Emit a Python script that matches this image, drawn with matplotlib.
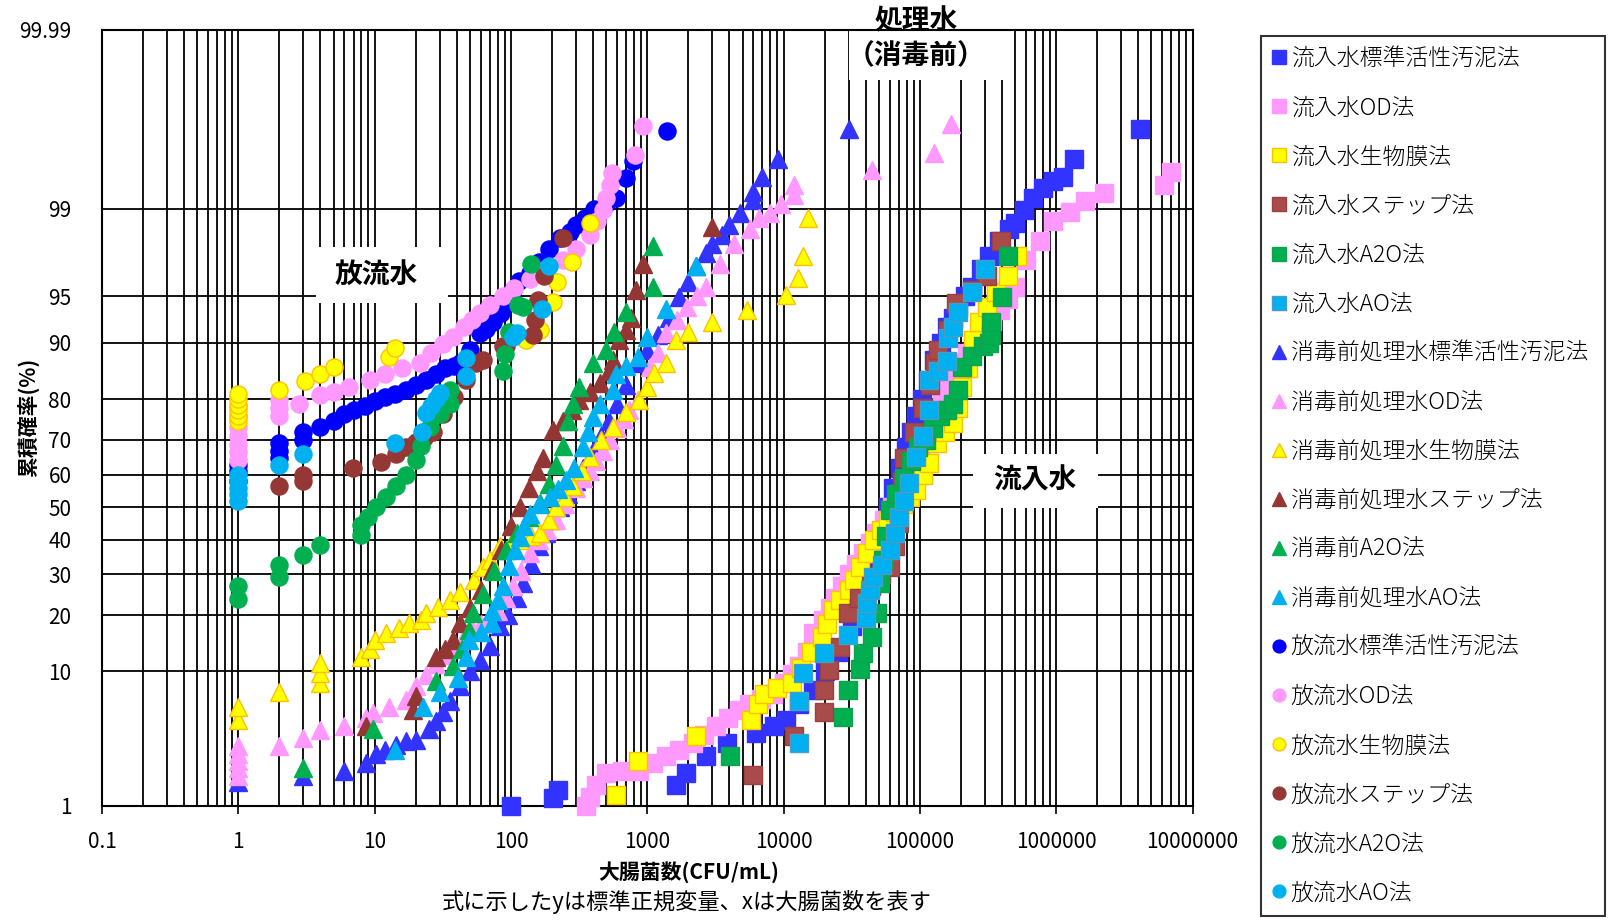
import numpy as np
import matplotlib
matplotlib.use("Agg")
import matplotlib.pyplot as plt
from matplotlib.ticker import FixedLocator, FixedFormatter, LogLocator, NullFormatter
from matplotlib.patches import Rectangle
from statistics import NormalDist

plt.rcParams['font.family'] = ['Noto Sans CJK JP', 'DejaVu Sans']

# ---------------- data (x: CFU/mL, p: cumulative probability %) ----------------
x_ticks = [0.1, 1, 10, 100, 1000, 10000, 100000, 1000000, 10000000]
x_tick_labels = ['0.1', '1', '10', '100', '1000', '10000', '100000', '1000000', '10000000']
y_ticks = [1, 10, 20, 30, 40, 50, 60, 70, 80, 90, 95, 99, 99.99]
y_tick_labels = ['1', '10', '20', '30', '40', '50', '60', '70', '80', '90', '95', '99', '99.99']

# Influent (squares)
inf_std_x = [100, 203, 220, 1630, 1940, 2690, 3820, 6280, 8500, 10500, 13000, 16500, 20000, 25000, 32000,
             37000, 42000, 47000, 52000, 58000, 64000, 71000, 79000, 86000, 93000, 103000, 115000, 128000,
             142000, 157000, 175000, 190000, 215000, 240000, 280000, 320000, 380000, 450000, 500000, 580000,
             675000, 800000, 950000, 1130000, 1340000, 4100000]
inf_std_p = [1.0, 1.16, 1.37, 1.5, 1.9, 2.6, 3.3, 3.9, 4.4, 4.85, 6.2, 7.7, 10, 13, 17.6,
             22, 27, 33, 40, 50, 56, 62, 68, 72, 76, 80, 84, 87.5,
             90, 92, 93, 94.1, 95, 95.7, 96.8, 97.5, 98.1, 98.5, 98.65, 98.97,
             99.2, 99.35, 99.45, 99.5, 99.67, 99.84]

inf_od_x = [357, 378, 420, 500, 650, 876, 1100, 1370, 1700, 2150, 2600, 3200, 3900, 4750, 5600, 6800, 8300,
            10000, 11500, 13000, 14800, 16500, 19500, 22000, 24000, 27000, 30000, 34000, 38000, 43000, 48000,
            55000, 62000, 70000, 80000, 90000, 102000, 115000, 130000, 145000, 160000, 175000, 195000, 220000,
            260000, 300000, 340000, 385000, 440000, 500000, 600000, 760000, 950000, 1270000, 1630000, 2250000,
            6200000, 7000000]
inf_od_p = [0.98, 1.2, 1.5, 1.9, 2.0, 2.0, 2.3, 2.6, 2.9, 3.3, 3.8, 4.4, 5.0, 5.7, 6.2, 6.7, 7.3,
            8.5, 9.6, 10.7, 13, 16.3, 19, 21.5, 24, 27, 30, 33, 36, 39, 42,
            46, 50, 54, 58, 62, 66, 70, 75, 80, 83, 85, 87, 88.5,
            90, 91.5, 92.7, 93.8, 94.8, 95.7, 97.3, 98.1, 98.7, 98.93, 99.14, 99.28,
            99.4, 99.55]

inf_bio_x = [590, 850, 2280, 5800, 6500, 7200, 9000, 11600, 13500, 16000, 19300, 21000, 23000, 26000, 30000,
             33000, 36500, 41000, 46000, 52000, 58000, 66000, 75000, 84000, 93000, 105000, 117000, 133000,
             152000, 175000, 190000, 205000, 225000, 245000, 270000, 310000, 360000, 440000, 520000]
inf_bio_p = [1.24, 2.4, 3.7, 4.85, 6.2, 7.3, 7.9, 8.5, 10.5, 13, 15.6, 18, 21.1, 23.5, 25.9,
             28.5, 32, 36, 40, 43, 46, 48.5, 51, 53, 55.3, 60, 63.4, 69,
             72, 74.3, 78, 82.6, 86, 90.4, 92.5, 94.1, 95.3, 96.4, 97.5]

inf_step_x = [6000, 11900, 19800, 19800, 21700, 26000, 29800, 36000, 44000, 52000, 60000, 66000, 70000,
              72000, 74000, 76000, 90000, 105000, 118000, 130000, 135000, 160000, 183000, 240000, 310000, 395000]
inf_step_p = [1.84, 3.7, 5.5, 7.7, 10.2, 13.8, 20.4, 24, 27, 30, 32, 38, 45,
              52, 58, 65, 72, 78, 83, 87, 89, 91.6, 94.4, 95.5, 96.4, 98.1]

inf_a2o_x = [4060, 27400, 29800, 36400, 38400, 44500, 48300, 51000, 54000, 56000, 60000, 67000, 76000,
             86000, 97000, 110000, 125000, 140000, 158000, 175000, 190000, 205000, 240000, 290000, 320000,
             330000, 335000, 400000, 440000]
inf_a2o_p = [2.6, 5.1, 7.7, 10.4, 12.7, 15.6, 20.4, 27.6, 34, 41, 49, 54, 59,
             64, 68, 70, 73, 76, 77.5, 79, 82, 86.3, 88, 89.5, 90,
             91, 92.6, 94.9, 97.5]

inf_ao_x = [13000, 13000, 13900, 19800, 29800, 40000, 41000, 43000, 45000, 53000, 60000, 66000, 70000,
            76000, 83000, 93500, 105000, 117000, 117000, 135000, 157000, 160000, 175000, 190000, 240000, 300000]
inf_ao_p = [3.3, 6.5, 9.8, 12.7, 15.9, 19.3, 22.7, 26, 29.4, 32.6, 37, 42, 47,
            52, 57.4, 65.2, 71, 77.5, 83.9, 85.5, 87.2, 90.6, 92, 93.6, 95.3, 96.8]

# Treated water before disinfection (triangles)
pre_std_x = [1, 3, 6, 8.7, 10.3, 12, 14.4, 17, 20.2, 25, 28.3, 32, 36, 42, 50, 59, 70, 83, 95, 110, 122,
             140, 160, 180, 200, 230, 260, 300, 340, 400, 460, 520, 600, 700, 850, 1000, 1200, 1450, 1720,
             2000, 2270, 2690, 3000, 3520, 4000, 4800, 5970, 6000, 6900, 9100, 30400]
pre_std_p = [1.6, 1.8, 2.0, 2.3, 2.7, 2.9, 3.2, 3.4, 3.5, 4.2, 4.8, 5.5, 6.5, 8.1, 10, 11.7, 14, 17.6, 20, 24, 27.6,
             33, 38, 42, 46, 50, 54, 58, 62, 67, 71, 75, 79, 83, 87, 89, 91, 93, 94.9,
             96, 97, 97.6, 98, 98.3, 98.6, 98.9, 99.17, 99.3, 99.5, 99.67, 99.84]

pre_od_x = [1, 1, 1, 1, 1, 2, 3, 4, 6, 8.6, 9.7, 12.8, 17, 20.2, 24, 28, 33, 38, 45, 52, 60, 70, 80, 92, 103,
            118, 137, 160, 185, 214, 250, 300, 340, 378, 420, 470, 530, 600, 670, 740, 850, 1040, 1200, 1380,
            1650, 1950, 2300, 2690, 3400, 4300, 5680, 6600, 7900, 9500, 11900, 11900, 44600, 127000, 170000]
pre_od_p = [1.8, 2.1, 2.4, 2.7, 3.1, 3.1, 3.6, 4.1, 4.4, 5.0, 5.4, 6.0, 6.6, 8.1, 9.5, 11, 12.5, 14, 15.5, 17,
            18, 19, 21, 24, 26.8, 31, 35.9, 40, 43, 46, 51, 56, 59, 61, 64, 67, 70, 73, 75.5, 77.5, 79.8,
            86.3, 88.5, 91.2, 92.8, 94.1, 95, 95.7, 97.1, 98, 98.5, 98.8, 98.9, 99.1, 99.25, 99.4, 99.57,
            99.71, 99.86]

pre_bio_x = [1, 1, 2, 4, 4, 4, 8, 9.2, 10, 12.2, 15.2, 18, 22, 24, 29, 35.5, 42, 54, 62, 70, 83, 100, 116,
             140, 163, 190, 215, 250, 284, 330, 378, 460, 560, 700, 875, 1000, 1130, 1380, 1630, 1980, 3000,
             5400, 10400, 12700, 13900, 15000]
pre_bio_p = [4.85, 6.0, 7.5, 8.5, 9.8, 11.2, 12.2, 13.5, 15, 16.3, 17.2, 18.3, 19, 20.4, 21.9, 23.4, 25.5,
             28.5, 32, 34, 38, 39, 40, 41, 42, 46, 50, 53, 56.4, 61, 65.2, 70, 73.5, 77, 79.8, 82.5,
             85.2, 86.9, 90.4, 91.4, 92.6, 93.8, 95.1, 96.3, 97.5, 98.8]

pre_step_x = [8.7, 19.1, 20.2, 28.3, 33, 37.6, 42, 50, 60, 73, 85, 100, 116, 135, 155, 171, 203, 240, 280,
              317, 380, 447, 520, 560, 625, 700, 760, 830, 935, 3000]
pre_step_p = [4.4, 5.7, 7.0, 12.2, 13.5, 15, 18.3, 21.5, 26, 31.2, 37, 44, 50, 56, 61, 65, 72.6, 75, 77.5,
              79.8, 81.5, 83.3, 85.5, 87.4, 90.4, 91.6, 93, 95.5, 97.1, 98.56]

pre_a2o_x = [3, 9.7, 28.3, 37.6, 44, 49.6, 52.6, 62, 75, 92, 110, 135, 163, 190, 215, 240, 262, 284, 317,
             400, 500, 575, 700, 1100, 1100]
pre_a2o_p = [2.1, 4.2, 8.7, 10.7, 13.5, 16.9, 20.4, 25, 31, 36.9, 42, 47, 51.2, 57, 63, 68.2, 75, 79,
             82.6, 86.9, 89, 91.4, 93.6, 95.7, 97.9]

pre_ao_x = [14, 22.6, 30, 40.7, 47, 49.6, 60, 73, 73, 80, 88, 97, 107, 116, 125, 137, 160, 193, 220, 254,
            290, 337, 370, 400, 447, 560, 590, 700, 850, 1000, 1370, 2270]
pre_ao_p = [2.9, 6.0, 7.5, 9.1, 12.2, 15, 16.5, 18.3, 21, 23.5, 27, 32.2, 37, 40.9, 44, 48, 51, 53.2,
            55.5, 58.4, 62, 68, 72, 75.9, 79, 81.9, 85, 86.5, 87.9, 90.8, 93.9, 97]

# Effluent (circles)
eff_std_x = [1, 1, 1, 2, 2, 2, 3, 3, 4, 5, 6, 7, 8.5, 10, 12, 14, 17, 20, 24, 28, 33, 38, 42, 50, 59, 66, 74,
             85, 95, 103, 115, 137, 160, 190, 230, 270, 300, 350, 410, 500, 590, 700, 785, 1400]
eff_std_p = [58, 61, 63, 65, 67, 69, 70, 72, 73.5, 75, 76.5, 77.5, 78.5, 79.5, 80.5, 81.2, 82, 83, 84, 85,
             86, 86.5, 87, 89, 91.2, 91.8, 92.5, 93.5, 94.5, 95.5, 96.1, 96.6, 97.2, 97.8, 98.2, 98.4, 98.6,
             98.8, 99.0, 99.1, 99.2, 99.48, 99.65, 99.83]

eff_od_x = [1, 1, 1, 1, 1, 1, 1, 2, 2, 2, 2.8, 4, 5, 6.5, 9.2, 12, 16, 21.5, 26, 32, 37.6, 45, 52, 59, 70,
            87, 105, 137, 180, 240, 300, 378, 430, 470, 500, 530, 550, 810, 935]
eff_od_p = [64.4, 66.5, 68.5, 71, 73.5, 76, 78.5, 76, 78, 79.8, 79, 80.9, 81.5, 82.5, 83.9, 85, 86, 86.9,
            88.5, 89.8, 90.8, 92, 92.8, 93.5, 94.2, 95, 95.6, 96.2, 96.8, 97.3, 97.8, 98.3, 98.7, 98.97,
            99.2, 99.4, 99.54, 99.7, 99.85]

eff_bio_x = [1, 1, 1, 1, 1, 1, 2, 3.07, 3.95, 5.0, 12.8, 14, 130, 163, 204, 218, 279, 381]
eff_bio_p = [75, 76.2, 77.5, 78.8, 80, 81, 82, 83.8, 85, 86.3, 87.9, 89.3, 90.3, 91.6, 94.5, 96, 97.2, 98.65]

eff_step_x = [2, 3, 3, 6.9, 11.2, 14.4, 17, 20, 23, 26.8, 31.8, 38, 47, 55.6, 62.5, 87, 92, 145, 149, 158,
              176, 240]
eff_step_p = [56.4, 58, 60, 61.9, 63.8, 66, 68, 69.5, 70.5, 72, 76.7, 80.5, 83.9, 86.9, 87.4, 89.5, 89.5,
              91, 92.8, 94.7, 96.4, 98.2]

eff_a2o_x = [1, 1, 2, 2, 3, 4, 8, 8, 9, 10.3, 12.2, 14.4, 17, 20.2, 22, 25.4, 30, 35.5, 35.5, 87, 90, 97,
             112, 122, 141]
eff_a2o_p = [23.6, 26.8, 29.4, 32.6, 35.5, 38.3, 41.4, 44.4, 47, 50, 53, 56.4, 59.9, 64.4, 68.2, 73.5, 76.5,
             79, 81.9, 85.5, 88.3, 91.4, 94.2, 94.1, 97.1]

eff_ao_x = [1, 1, 1, 1, 1, 2, 3, 14, 22.4, 24, 26, 28, 30, 47, 47, 103, 111, 169, 190]
eff_ao_p = [52, 54, 56, 58, 60, 63, 66, 69, 72, 76.8, 78.4, 80, 81.3, 84.6, 87.7, 90.8, 91.2, 93.9, 97]

labels = ['流入水標準活性汚泥法', '流入水OD法', '流入水生物膜法', '流入水ステップ法', '流入水A2O法', '流入水AO法',
          '消毒前処理水標準活性汚泥法', '消毒前処理水OD法', '消毒前処理水生物膜法', '消毒前処理水ステップ法',
          '消毒前A2O法', '消毒前処理水AO法',
          '放流水標準活性汚泥法', '放流水OD法', '放流水生物膜法', '放流水ステップ法', '放流水A2O法', '放流水AO法']

# ---------------- probability scale ----------------
_nd = NormalDist()
_ppf = np.vectorize(_nd.inv_cdf, otypes=[float])
_cdf = np.vectorize(_nd.cdf, otypes=[float])


def fwd(p):
    p = np.asarray(p, dtype=float)
    return _ppf(np.clip(p / 100.0, 1e-9, 1 - 1e-9))


def inv(z):
    z = np.asarray(z, dtype=float)
    return 100.0 * _cdf(z)


W, H = 1613, 923
fig = plt.figure(figsize=(W / 100, H / 100), dpi=100)
ax = fig.add_axes([102 / W, 1 - 805.5 / H, (1192.5 - 102) / W, 775.5 / H])
ax.set_xscale('log')
ax.set_yscale('function', functions=(fwd, inv))
ax.set_xlim(0.1, 1e7)
ax.set_ylim(1, 99.99)

BLUE = '#3333FF'
PINK = '#FF99FF'
YEL = '#FFFF00'
YEL_E = '#FFC000'
BROWN_S = '#AA4B4B'
BROWN_T = '#943634'
BROWN_C = '#953735'
GREEN = '#00B050'
CYAN = '#00B0F0'

series = [
    (inf_std_x, inf_std_p, 's', BLUE, BLUE),
    (inf_od_x, inf_od_p, 's', PINK, PINK),
    (inf_bio_x, inf_bio_p, 's', YEL, YEL_E),
    (inf_step_x, inf_step_p, 's', BROWN_S, '#9A4040'),
    (inf_a2o_x, inf_a2o_p, 's', GREEN, '#10A050'),
    (inf_ao_x, inf_ao_p, 's', CYAN, '#4A9CC0'),
    (pre_std_x, pre_std_p, '^', BLUE, BLUE),
    (pre_od_x, pre_od_p, '^', PINK, PINK),
    (pre_bio_x, pre_bio_p, '^', YEL, YEL_E),
    (pre_step_x, pre_step_p, '^', BROWN_T, BROWN_T),
    (pre_a2o_x, pre_a2o_p, '^', GREEN, GREEN),
    (pre_ao_x, pre_ao_p, '^', CYAN, CYAN),
    (eff_std_x, eff_std_p, 'o', '#0000FF', '#0000FF'),
    (eff_od_x, eff_od_p, 'o', PINK, PINK),
    (eff_bio_x, eff_bio_p, 'o', YEL, YEL_E),
    (eff_step_x, eff_step_p, 'o', BROWN_C, BROWN_C),
    (eff_a2o_x, eff_a2o_p, 'o', GREEN, GREEN),
    (eff_ao_x, eff_ao_p, 'o', CYAN, CYAN),
]
msize = {'s': 12.8, '^': 12.8, 'o': 12.3}
for (xs, ps, mk, fc, ec), lab in zip(series, labels):
    ax.plot(xs, ps, linestyle='none', marker=mk, markersize=msize[mk],
            markerfacecolor=fc, markeredgecolor=ec, markeredgewidth=1.0,
            label=lab, clip_on=False, zorder=3)

# ticks & grid
ax.xaxis.set_major_locator(FixedLocator(x_ticks))
ax.xaxis.set_major_formatter(FixedFormatter(x_tick_labels))
ax.xaxis.set_minor_locator(LogLocator(base=10, subs=np.arange(2, 10), numticks=20))
ax.xaxis.set_minor_formatter(NullFormatter())
ax.yaxis.set_major_locator(FixedLocator(y_ticks))
ax.yaxis.set_major_formatter(FixedFormatter(y_tick_labels))
ax.yaxis.set_minor_locator(FixedLocator([]))
ax.set_axisbelow(True)
ax.grid(which='both', axis='x', color='black', linewidth=1.3)
ax.grid(which='major', axis='y', color='black', linewidth=1.3)
ax.tick_params(axis='x', which='major', direction='out', length=6, width=1.2, pad=12, labelsize=15)
ax.tick_params(axis='x', which='minor', length=0)
ax.tick_params(axis='y', which='major', length=0, pad=22, labelsize=15)
for s in ax.spines.values():
    s.set_linewidth(1.5)
    s.set_color('black')

# label boxes (white, no border)
def box(x0, y0, x1, y1):
    ax.add_patch(Rectangle((x0 / W, 1 - y1 / H), (x1 - x0) / W, (y1 - y0) / H,
                           transform=fig.transFigure, facecolor='white', edgecolor='none',
                           clip_on=False, zorder=1.5))

box(849, 0, 1013, 80)
box(316, 247, 448, 303)
box(973, 454, 1098, 508)
ax.text(916 / W, 1 - 39 / H, '処理水\n（消毒前）', transform=fig.transFigure, ha='center', va='center',
        fontsize=20, fontweight='bold', linespacing=1.3, zorder=4, clip_on=False)
ax.text(376 / W, 1 - 276 / H, '放流水', transform=fig.transFigure, ha='center', va='center',
        fontsize=20, fontweight='bold', zorder=4)
ax.text(1035 / W, 1 - 481 / H, '流入水', transform=fig.transFigure, ha='center', va='center',
        fontsize=20, fontweight='bold', zorder=4)

# axis titles
fig.text(28 / W, 1 - 417 / H, '累積確率(%)', rotation=90, ha='center', va='center',
         fontsize=15, fontweight='bold')
fig.text(689 / W, 1 - 872 / H, '大腸菌数(CFU/mL)', ha='center', va='center', fontsize=15, fontweight='bold')
fig.text(687 / W, 1 - 902 / H, '式に示したyは標準正規変量、xは大腸菌数を表す', ha='center', va='center',
         fontsize=16)

# legend
leg = fig.legend(loc='upper left', bbox_to_anchor=(1261 / W, 1 - 36 / H, 344 / W, 0.0), mode='expand',
                 prop={'size': 16.5, 'weight': 'light'}, markerscale=0.75, handlelength=0.7,
                 handletextpad=0.15, labelspacing=1.05, borderpad=0.45, borderaxespad=0,
                 fancybox=False, frameon=True)
leg.get_frame().set_edgecolor('black')
leg.get_frame().set_linewidth(1.5)

fig.savefig('out.png', dpi=100)
